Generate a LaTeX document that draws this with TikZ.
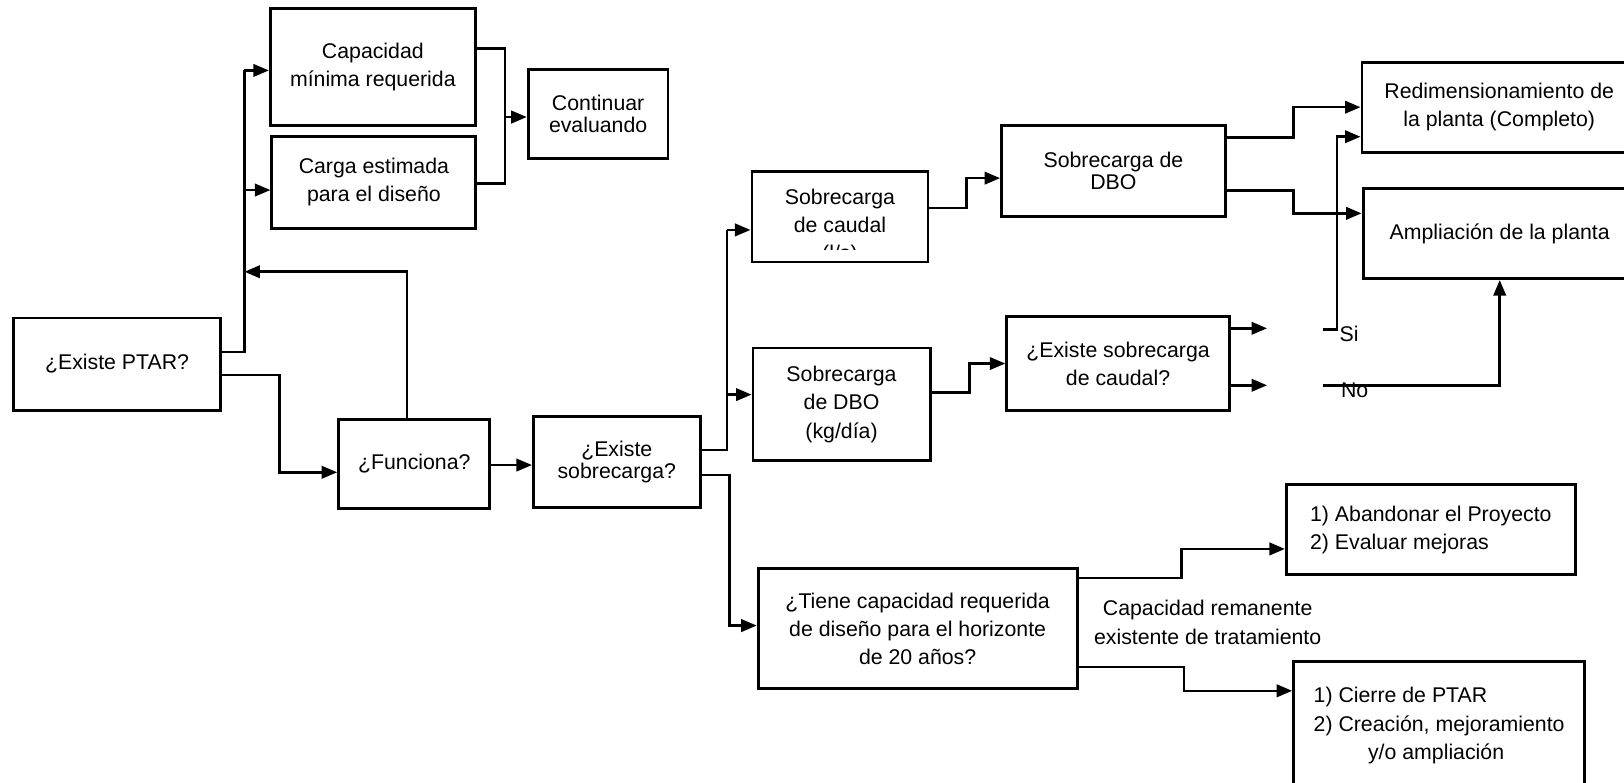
\documentclass[tikz,border=0pt]{standalone}
\usepackage{fontspec}
\setmainfont{Liberation Sans}
\usetikzlibrary{arrows.meta}

\begin{document}
\begin{tikzpicture}[x=0.02cm,y=-0.02cm,
    every node/.style={font=\fontsize{11.7}{15.5}\selectfont},
    box/.style={draw,line width=1.6pt,align=center,inner sep=2pt},
    tightlines/.style={font=\fontsize{11.7}{12.5}\selectfont},
    wire/.style={line width=1.4pt},
    arr/.style={line width=1.4pt,-{Triangle[length=0.3cm,width=0.24cm]}}]

    \useasboundingbox (0,0) rectangle (1568,756);

    % Boxes, left part
    \node[box,minimum width=3.96cm,minimum height=2.26cm] (cap) at (360,64.5) {Capacidad\\mínima requerida};
    \node[box,minimum width=3.94cm,minimum height=1.77cm] (carga) at (361,176) {Carga estimada\\para el diseño};
    \node[box,tightlines,minimum width=2.70cm,minimum height=1.71cm] (cont) at (577.5,110) {Continuar\\evaluando};
    \node[box,minimum width=4.00cm,minimum height=1.78cm] (ptar) at (113,351.5) {¿Existe PTAR?};
    \node[box,minimum width=2.92cm,minimum height=1.72cm] (func) at (400,448) {¿Funciona?};
    \node[box,tightlines,minimum width=3.22cm,minimum height=1.76cm] (sobre) at (595.5,446) {¿Existe\\sobrecarga?};

    % Boxes, middle part
    \node[box,minimum width=3.40cm,minimum height=1.74cm,
        path picture={
            \clip ([yshift=0.24cm]path picture bounding box.south west) rectangle (path picture bounding box.north east);
            \node[draw=none,align=center] at ([yshift=-0.19cm]path picture bounding box.center) {Sobrecarga\\de caudal\\(l/s)};
        }] (caudal) at (811,209.5) {};
    \node[box,minimum width=3.42cm,minimum height=2.18cm] (dbo) at (812.5,390.5) {Sobrecarga\\de DBO\\(kg/día)};
    \node[box,tightlines,minimum width=4.32cm,minimum height=1.77cm] (dboB) at (1075,165) {Sobrecarga de\\DBO};
    \node[box,minimum width=4.30cm,minimum height=1.80cm] (excau) at (1079.5,351) {¿Existe sobrecarga\\de caudal?};
    \node[box,minimum width=6.16cm,minimum height=2.32cm] (tiene) at (886,607) {¿Tiene capacidad requerida\\de diseño para el horizonte\\de 20 años?};

    % Boxes, right part
    \node[box,minimum width=5.30cm,minimum height=1.74cm] (redim) at (1447.5,103.5) {Redimensionamiento de\\la planta (Completo)};
    \node[box,minimum width=5.28cm,minimum height=1.74cm] (ampl) at (1448,225.5) {Ampliación de la planta};
    \node[box,align=left,minimum width=5.58cm,minimum height=1.74cm] (aband) at (1381.5,511.5) {1) Abandonar el Proyecto\\2) Evaluar mejoras};
    \node[box,align=left,minimum width=5.62cm,minimum height=2.46cm] (cierre) at (1389.5,700.5) {1) Cierre de PTAR\\2) Creación, mejoramiento\\\hspace*{1.05cm}y/o ampliación};

    % Labels
    \node[anchor=west,inner sep=0pt] (si) at (1293,322) {Si};
    \node[inner sep=0pt] (no) at (1308,377) {No};
    \node[align=center] (resto) at (1166,601) {Capacidad remanente\\existente de tratamiento};

    % Connectors from ¿Existe PTAR?
    \coordinate (busA) at (236,68);
    \coordinate (busB) at (236,183.5);
    \coordinate (busC) at (236,262.4);
    \draw[wire] (ptar.east |- 0,340) -| (busA);
    \draw[arr] (busA) -- (busA -| cap.west);
    \draw[arr] (busB) -- (busB -| carga.west);
    \draw[arr] (func.north -| 393,0) |- (busC);
    \draw[arr] (ptar.east |- 0,362) -- (270,362) |- (func.west |- 0,456);

    % Merge into Continuar evaluando
    \coordinate (merge) at (487.6,113);
    \draw[wire] (cap.east |- 0,47) -| (merge) |- (carga.east |- 0,177);
    \draw[arr] (merge) -- (merge -| cont.west);

    % ¿Funciona? and ¿Existe sobrecarga?
    \draw[arr] (func.east |- 0,449) -- (sobre.west |- 0,449);
    \coordinate (sobreUp) at (702,222);
    \coordinate (sobreMid) at (702,381);
    \draw[wire] (sobre.east |- 0,434.5) -| (sobreUp);
    \draw[arr] (sobreUp) -- (sobreUp -| caudal.west);
    \draw[arr] (sobreMid) -- (sobreMid -| dbo.west);
    \draw[arr] (sobre.east |- 0,458.6) -- (704.5,458.6) |- (tiene.west |- 0,604);

    % Overload branches
    \draw[arr] (caudal.east |- 0,201) -- (933,201) |- (dboB.west |- 0,172);
    \draw[arr] (dbo.east |- 0,379) -- (936,379) |- (excau.west);
    \draw[arr] (dboB.east |- 0,133) -- (1249,133) |- (redim.west);
    \draw[arr] (dboB.east |- 0,184) -- (1249,184) |- (ampl.west |- 0,206);
    \draw[arr] (excau.east |- 0,317) -- ++(35,0);
    \draw[arr] (excau.east |- 0,372) -- ++(35,0);

    % Si / No
    \coordinate (siA) at (1277,318);
    \coordinate (noA) at (1277,372);
    \draw[arr] (siA) -| (1291,132) -- (redim.west |- 0,132);
    \draw[arr] (noA) -| (ampl.south);

    % Capacity question
    \draw[arr] (tiene.east |- 0,558) -- (1141,558) |- (aband.west |- 0,530);
    \draw[arr] (tiene.east |- 0,644) -- (1143,644) |- (cierre.west |- 0,667);
\end{tikzpicture}
\end{document}
